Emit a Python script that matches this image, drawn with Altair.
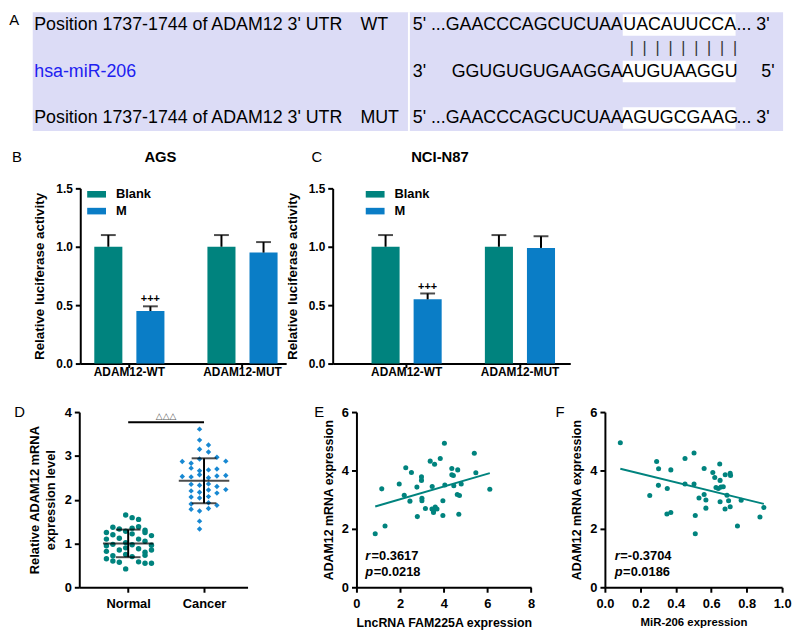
import altair as alt
import pandas as pd

FONT = "Liberation Sans"
TEAL = "#00837E"
BLUE = "#0A7DC6"
DOT_BLUE = "#1788D2"
LAVENDER = "#DCDCF6"
MIR_BLUE = "#2020F0"
NB = "\u00a0"

# ---------------- Panel A: sequence alignment ----------------
seq_row = [0, 1, 2]
seq_name = ["Position 1737-1744 of ADAM12 3' UTR", "hsa-miR-206", "Position 1737-1744 of ADAM12 3' UTR"]
seq_kind = ["WT", "", "MUT"]
seq_end_left = ["5'", "3'", "5'"]
seq_prefix = ["...GAACCCAGCUCUAA", "GGUGUGUGAAGGA", "...GAACCCAGCUCUAA"]
seq_seed = ["UACAUUCCA", "AUGUAAGGU", "AGUGCGAAG"]
seq_suffix = ["... 3'", "5'", "... 3'"]
pair_text = [(NB * 2).join(["|"] * 9)]

# ---------------- Panels B, C: luciferase ----------------
bar_groups = ["ADAM12-WT", "ADAM12-WT", "ADAM12-MUT", "ADAM12-MUT"]
bar_series = ["Blank", "M", "Blank", "M"]
ags_mean = [1.00, 0.45, 1.00, 0.95]
ags_sd = [0.10, 0.04, 0.10, 0.09]
n87_mean = [1.00, 0.55, 1.00, 0.99]
n87_sd = [0.10, 0.05, 0.10, 0.10]
bar_sig = ["", "+++", "", ""]

# ---------------- Panel D: dot plot ----------------
normal_val = [1.65, 1.59, 1.55,
              1.37, 1.33, 1.35, 1.38, 1.30,
              1.25, 1.20, 1.22, 1.25, 1.18,
              1.10, 1.12, 1.10, 1.05,
              0.95, 0.98, 1.02, 0.97, 0.96,
              0.82, 0.85, 0.88, 0.80, 0.85,
              0.72, 0.75, 0.70, 0.73,
              0.60, 0.57, 0.58, 0.55, 0.55,
              0.42, 1.28, 0.90, 0.65]
normal_jit = [-0.033, 0.052, 0.137,
              -0.202, -0.117, 0.052, 0.137, 0.222,
              -0.287, -0.202, 0.052, 0.222, 0.307,
              -0.287, -0.117, 0.137, 0.222,
              -0.287, -0.202, -0.033, 0.052, 0.307,
              -0.287, -0.117, 0.137, 0.222, 0.307,
              -0.202, -0.033, 0.052, 0.222,
              -0.202, -0.117, 0.137, 0.222, 0.307,
              -0.033, -0.033, -0.033, -0.287]
cancer_val = [3.61, 3.36, 3.25, 3.15, 3.09,
              2.97, 2.87, 2.83, 2.88, 2.93,
              2.72, 2.68, 2.70, 2.66,
              2.53, 2.52, 2.57, 2.50, 2.54, 2.55,
              2.35, 2.33, 2.36, 2.30,
              2.20, 2.17, 2.22, 2.23, 2.15,
              2.06, 2.04, 2.07,
              1.90, 1.87, 1.93,
              1.78, 1.74, 1.80,
              1.51, 1.33]
cancer_jit = [-0.059, -0.059, 0.059, -0.059, 0.059,
              0.170, -0.287, -0.170, 0.287, -0.059,
              -0.170, 0.059, 0.170, -0.059,
              -0.287, -0.170, -0.059, 0.059, 0.170, 0.287,
              -0.170, -0.059, 0.059, 0.170,
              -0.170, -0.059, 0.059, 0.287, 0.170,
              -0.170, -0.059, 0.059,
              -0.170, 0.170, 0.059,
              -0.170, -0.059, 0.059,
              -0.059, -0.059]
sig_D = ["\u25b3\u25b3\u25b3"]
sig_D_y = [3.77]

# ---------------- Panel E ----------------
lnc_x = [0.86, 1.31, 1.16, 1.96, 2.19, 2.26, 2.45, 2.52, 2.77, 2.79,
         2.98, 2.98, 3.00, 3.00, 3.16, 3.38, 3.46, 3.47, 3.53, 3.58,
         3.61, 3.69, 3.53, 3.84, 3.96, 3.96, 4.03, 4.05, 4.37, 4.37,
         4.44, 4.46, 4.62, 4.64, 4.69, 4.72, 4.80, 5.40, 5.47, 6.11]
adam_E = [1.83, 2.10, 3.37, 3.54, 3.15, 4.09, 2.95, 3.93, 3.43, 2.42,
          3.78, 3.66, 3.05, 2.96, 2.70, 4.32, 2.68, 3.45, 2.62, 4.21,
          2.75, 2.68, 2.56, 4.41, 2.96, 2.46, 4.93, 3.50, 4.07, 3.85,
          3.83, 3.48, 3.18, 4.02, 2.50, 3.14, 3.54, 4.59, 3.92, 3.36]
stats_E = ["0.3617", "0.0218"]

# ---------------- Panel F ----------------
mir_x = [0.087, 0.292, 0.303, 0.372, 0.302, 0.352, 0.253, 0.350, 0.372, 0.452,
         0.503, 0.452, 0.503, 0.510, 0.510, 0.531, 0.560, 0.560, 0.570, 0.570,
         0.609, 0.620, 0.648, 0.650, 0.627, 0.640, 0.655, 0.668, 0.650, 0.679,
         0.678, 0.689, 0.698, 0.707, 0.709, 0.707, 0.748, 0.769, 0.875, 0.897]
adam_F = [4.95, 4.31, 4.06, 4.02, 3.49, 3.38, 3.14, 2.51, 2.56, 4.41,
          4.60, 3.54, 3.54, 2.46, 1.83, 3.06, 4.07, 3.18, 2.99, 2.71,
          3.93, 3.76, 4.22, 3.66, 3.42, 3.38, 3.43, 3.44, 2.93, 3.85,
          2.68, 3.15, 2.96, 3.90, 3.83, 2.76, 2.10, 2.98, 2.41, 2.73]
stats_F = ["-0.3704", "0.0186"]


def one(**kw):
    return pd.DataFrame({k: [v] for k, v in kw.items()})


def text_layer(t, dx, dy, size=15, weight="normal", align="left"):
    return alt.Chart(one(t=t)).mark_text(
        font=FONT, fontSize=size, fontWeight=weight, align=align, baseline="middle", color="black"
    ).encode(x=alt.value(dx), y=alt.value(dy), text="t:N")


def marker(x, y):
    # tiny white rule that only pins the layout bounds of a panel
    return alt.Chart(one(m=0)).mark_rule(color="white", strokeWidth=1).encode(
        x=alt.value(x), x2=alt.value(x + 1), y=alt.value(y))


# ================= Panel A =================
A_W, A_H = 758, 129
dfA = pd.DataFrame(dict(row=seq_row, name=seq_name, kind=seq_kind, endl=seq_end_left,
                        prefix=seq_prefix, seed=seq_seed, suffix=seq_suffix))
scA = alt.Scale(domain=[-0.277, 2.468], reverse=True)


def yA(f):
    return alt.Y(f, type="quantitative", scale=scA, axis=None)


txtA = dict(font=FONT, fontSize=18, baseline="middle", color="black")
bgA = alt.Chart(one(p="A")).mark_rect(color=LAVENDER).encode(
    x=alt.value(0), x2=alt.value(A_W), y=alt.value(0), y2=alt.value(120))
divA = alt.Chart(one(p="A")).mark_rule(color="white", strokeWidth=2).encode(
    x=alt.value(380), y=alt.value(0), y2=alt.value(120))
baseA = alt.Chart(dfA)
seedbox = baseA.transform_calculate(y0="datum.row - 0.23", y1="datum.row + 0.23").mark_rect(
    color="white").encode(x=alt.value(596), x2=alt.value(710), y=yA("y0"), y2="y1:Q")
nameT = baseA.mark_text(align="left", font=FONT, fontSize=18, baseline="middle").encode(
    x=alt.value(1.5), y=yA("row"), text="name:N",
    color=alt.condition("datum.row == 1", alt.value(MIR_BLUE), alt.value("black")))
kindT = baseA.mark_text(align="left", **txtA).encode(x=alt.value(331), y=yA("row"), text="kind:N")
endT = baseA.mark_text(align="left", **txtA).encode(x=alt.value(384), y=yA("row"), text="endl:N")
preT = baseA.mark_text(align="right", **txtA).encode(x=alt.value(596), y=yA("row"), text="prefix:N")
seedT = baseA.mark_text(align="center", **txtA).encode(x=alt.value(653.5), y=yA("row"), text="seed:N")
sufT = baseA.transform_filter("datum.row != 1").mark_text(align="left", **txtA).encode(
    x=alt.value(711), y=yA("row"), text="suffix:N")
sufT2 = baseA.transform_filter("datum.row == 1").mark_text(align="left", **txtA).encode(
    x=alt.value(736), y=yA("row"), text="suffix:N")
pairT = alt.Chart(pd.DataFrame({"row": [0.5], "t": pair_text})).mark_text(
    align="left", font=FONT, fontSize=16, baseline="middle", color="#333").encode(
    x=alt.value(603), y=yA("row"), text="t:N")
panelA = alt.layer(bgA, divA, seedbox, nameT, kindT, endT, preT, seedT, sufT, sufT2, pairT,
                   text_layer("A", -23.7, 7.5), marker(-23.7, 136)).properties(width=A_W, height=A_H)


# ================= Panels B, C =================
LEG_SYM = "M-1,-0.35L1,-0.35L1,0.35L-1,0.35Z"


def bar_panel(means, sds, title, title_x, letter, letx, W, po, al, legx, marks):
    df = pd.DataFrame(dict(group=bar_groups, series=bar_series, mean=means, sd=sds, sig=bar_sig))
    base = alt.Chart(df).transform_calculate(hi="datum.mean + datum.sd")
    xsc = alt.Scale(paddingInner=0.38, paddingOuter=po, align=al)
    xax = alt.Axis(labelAngle=0, labelFontSize=12, labelPadding=-1, tickSize=4)
    ysc = alt.Scale(domain=[0, 1.5])
    yax = alt.Axis(values=[0, 0.5, 1.0, 1.5], format=".1f", labelFontSize=12,
                   titleFontSize=13.5, titlePadding=9, labelPadding=3)

    def X():
        return alt.X("group:N", sort=["ADAM12-WT", "ADAM12-MUT"], scale=xsc, axis=xax, title=None)

    def XO():
        return alt.XOffset("series:N", sort=["Blank", "M"],
                           scale=alt.Scale(paddingInner=0.333, paddingOuter=0))

    def Y(f):
        return alt.Y(f, type="quantitative", scale=ysc, axis=yax, title="Relative luciferase activity")

    bars = base.mark_bar().encode(
        x=X(), xOffset=XO(), y=Y("mean"),
        color=alt.Color("series:N", scale=alt.Scale(domain=["Blank", "M"], range=[TEAL, BLUE]),
                        legend=alt.Legend(title=None, orient="none", legendX=legx, legendY=-3.5,
                                          symbolType=LEG_SYM, symbolSize=361, symbolStrokeWidth=0,
                                          labelFontSize=13, labelFontWeight="bold", labelFont=FONT,
                                          labelColor="black", labelOffset=10, rowPadding=-2, padding=0)))
    err = base.mark_rule(color="black", strokeWidth=2).encode(x=X(), xOffset=XO(), y=Y("mean"), y2="hi:Q")
    cap = base.mark_tick(color="black", thickness=2, size=15).encode(x=X(), xOffset=XO(), y=Y("hi"))
    sig = base.mark_text(font=FONT, fontSize=11, fontWeight="bold", baseline="bottom", dy=-2,
                         color="black").encode(x=X(), xOffset=XO(), y=Y("hi"), text="sig:N")
    layers = [bars, err, cap, sig,
              text_layer(letter, letx, -32),
              text_layer(title, title_x, -32, size=15, weight="bold", align="center")]
    layers += [marker(mx, my) for mx, my in marks]
    return alt.layer(*layers).properties(width=W, height=177)


panelB = bar_panel(ags_mean, ags_sd, "AGS", 81, "B", -69, 208, 0.10, 0.62, 7,
                   [(-71, -40), (-71, 215)])
panelC = bar_panel(n87_mean, n87_sd, "NCI-N87", 108.4, "C", -21.5, 240, 0.238, 0.72, 33.4, [])

# ================= Panel D =================
dfD = pd.DataFrame({
    "group": ["Normal"] * len(normal_val) + ["Cancer"] * len(cancer_val),
    "grp": [1] * len(normal_val) + [2] * len(cancer_val),
    "val": normal_val + cancer_val,
    "jit": normal_jit + cancer_jit,
})
xDsc = alt.Scale(domain=[0.355, 2.574])
xDax = alt.Axis(values=[1, 2], labelExpr="datum.value == 1 ? 'Normal' : 'Cancer'",
                labelFontSize=13, labelPadding=5)
yDsc = alt.Scale(domain=[0, 4])
yDax = alt.Axis(values=[0, 1, 2, 3, 4], format="d", labelFontSize=13, titleFontSize=13,
                titlePadding=7, titleLineHeight=16, labelPadding=3)
D_TITLE = ["Relative ADAM12 mRNA", "expression level"]


def XD(f):
    return alt.X(f, type="quantitative", scale=xDsc, axis=xDax, title=None)


def YD(f):
    return alt.Y(f, type="quantitative", scale=yDsc, axis=yDax, title=D_TITLE)


ptsD = alt.Chart(dfD).transform_calculate(pos="datum.grp + datum.jit").mark_point(
    filled=True, size=30, opacity=1).encode(
    x=XD("pos"), y=YD("val"),
    color=alt.Color("group:N", scale=alt.Scale(domain=["Normal", "Cancer"], range=[TEAL, DOT_BLUE]), legend=None),
    shape=alt.Shape("group:N", scale=alt.Scale(domain=["Normal", "Cancer"], range=["circle", "diamond"]), legend=None))
aggD = alt.Chart(dfD).transform_aggregate(m="mean(val)", s="stdev(val)", groupby=["grp"]).transform_calculate(
    lo="datum.m - datum.s", hi="datum.m + datum.s")
vD = aggD.mark_rule(color="black", strokeWidth=2).encode(x=XD("grp"), y=YD("lo"), y2="hi:Q")
mD = aggD.mark_tick(color="black", thickness=2, size=51, orient="horizontal").encode(x=XD("grp"), y=YD("m"))
loD = aggD.mark_tick(color="black", thickness=2, size=25, orient="horizontal").encode(x=XD("grp"), y=YD("lo"))
hiD = aggD.mark_tick(color="black", thickness=2, size=25, orient="horizontal").encode(x=XD("grp"), y=YD("hi"))
dfSig = pd.DataFrame({"x1": [1], "x2": [2], "y": sig_D_y, "t": sig_D})
sigRule = alt.Chart(dfSig).mark_rule(color="black", strokeWidth=2).encode(x=XD("x1"), x2="x2:Q", y=YD("y"))
sigText = alt.Chart(dfSig).transform_calculate(xm="(datum.x1 + datum.x2) / 2").mark_text(
    fontSize=9, font="DejaVu Sans", color="#555", baseline="bottom", dy=-1).encode(
    x=XD("xm"), y=YD("y"), text="t:N")
panelD = alt.layer(ptsD, vD, mD, loD, hiD, sigRule, sigText, text_layer("D", -65.6, 0),
                   marker(-70.3, -9)).properties(width=170, height=177)


# ================= Panels E, F =================
def scatter_panel(xs, ys, xdom, xvals, xfmt, xtitle, xtsize, stats, letter, letx, W, rx, req, peq):
    df = pd.DataFrame({"x": xs, "y": ys})
    xsc = alt.Scale(domain=xdom)
    xax = alt.Axis(values=xvals, format=xfmt, labelFontSize=13, titleFontSize=xtsize, labelPadding=5,
                   titlePadding=7)
    ysc = alt.Scale(domain=[0, 6])
    yax = alt.Axis(values=[0, 2, 4, 6], format="d", labelFontSize=13, titleFontSize=12.5, labelPadding=3,
                   titlePadding=6)
    X = alt.X("x:Q", scale=xsc, axis=xax, title=xtitle)
    Y = alt.Y("y:Q", scale=ysc, axis=yax, title="ADAM12 mRNA expression")
    base = alt.Chart(df)
    pts = base.mark_circle(size=26, opacity=1, color=TEAL).encode(x=X, y=Y)
    line = base.transform_regression("x", "y").mark_line(color=TEAL, strokeWidth=2).encode(x=X, y=Y)
    layers = [pts, line]
    stxt = dict(font=FONT, fontSize=13, fontWeight="bold", align="left", baseline="middle", color="black")
    for sym, val, ypos, eqx in [("r", stats[0], 145.5, req), ("p", stats[1], 161.2, peq)]:
        d = one(sym=sym, val="=" + val)
        layers.append(alt.Chart(d).mark_text(fontStyle="italic", **stxt).encode(
            x=alt.value(rx), y=alt.value(ypos), text="sym:N"))
        layers.append(alt.Chart(d).mark_text(**stxt).encode(
            x=alt.value(eqx), y=alt.value(ypos), text="val:N"))
    layers.append(text_layer(letter, letx, 0))
    return alt.layer(*layers).properties(width=W, height=177)


panelE = scatter_panel(lnc_x, adam_E, [0, 8], [0, 2, 4, 6, 8], "d", "LncRNA FAM225A expression", 12.5,
                       stats_E, "E", -42.7, 176.4, 9, 15.2, 17.4)
panelF = scatter_panel(mir_x, adam_F, [0, 1], [0, 0.2, 0.4, 0.6, 0.8, 1.0], ".1f", "MiR-206 expression", 11.5,
                       stats_F, "F", -50, 179, 10, 15.6, 18.4)


# ================= Layout =================
def spacer(w, h):
    return alt.Chart(one(s=0)).mark_point(opacity=0).encode(
        x=alt.value(0), y=alt.value(0)).properties(width=w, height=h)


row2 = alt.hconcat(spacer(47.3, 177), panelB, spacer(46.3, 177), panelC,
                   spacing=0, bounds="flush").resolve_scale(color="independent")
row3 = alt.hconcat(spacer(46.6, 177), panelD, spacer(109.4, 177), panelE, spacer(73.6, 177), panelF,
                   spacing=0, bounds="flush").resolve_scale(color="independent", shape="independent")

chart = alt.vconcat(panelA, row2, row3, spacing=0).resolve_scale(
    color="independent", shape="independent").properties(padding=0)
chart = chart.configure(font=FONT).configure_view(stroke=None).configure_axis(
    domainColor="black", domainWidth=2, tickColor="black", tickWidth=2, tickSize=5,
    labelColor="black", titleColor="black", labelFontWeight="bold", titleFontWeight="bold",
    labelFont=FONT, titleFont=FONT, grid=False, labelFlush=False, labelOverlap=False
)

chart.save("out.html", embed_options={"renderer": "svg", "actions": False})
